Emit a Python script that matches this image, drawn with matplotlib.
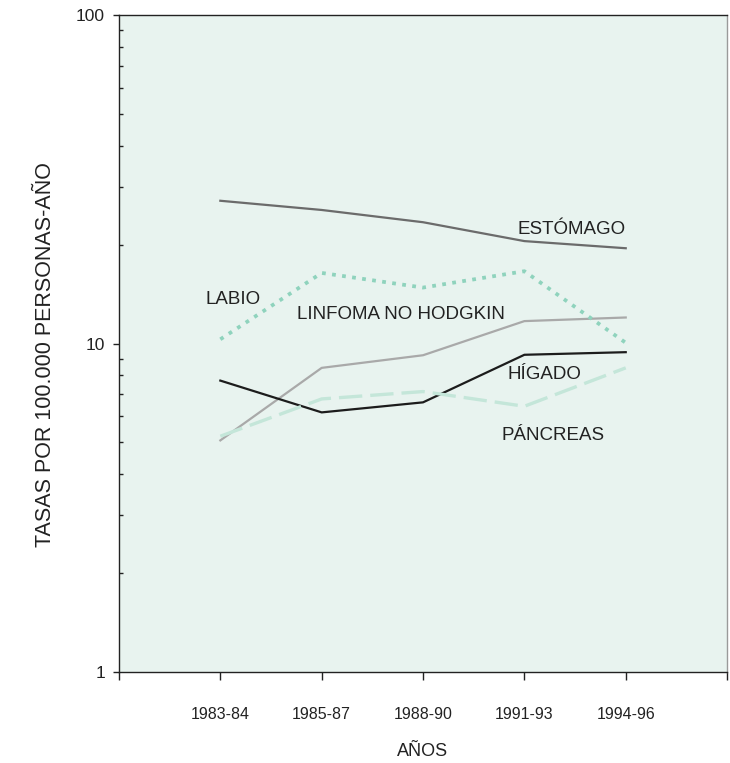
import numpy as np
import matplotlib
matplotlib.use("Agg")
import matplotlib.pyplot as plt
from matplotlib.ticker import FixedLocator, NullFormatter, LogLocator

# periodos (eje x)
periodos = ["1983-84", "1985-87", "1988-90", "1991-93", "1994-96"]

# tasas por 100.000 personas-año
estomago = [27.2, 25.5, 23.4, 20.5, 19.5]
labio = [10.3, 16.4, 14.8, 16.6, 10.05]
linfoma = [5.07, 8.43, 9.21, 11.7, 12.0]
higado = [7.71, 6.17, 6.62, 9.24, 9.41]
pancreas = [5.22, 6.78, 7.14, 6.44, 8.43]

FONDO = "#e8f3ef"


def plot_tasas():
    plt.rcParams["font.family"] = ["Liberation Sans", "DejaVu Sans"]

    fig = plt.figure(figsize=(7.3, 7.63), dpi=100)
    ax = fig.add_axes([0.163, 0.1193, 0.833, 0.861])
    ax.set_facecolor(FONDO)

    x = np.arange(1, len(periodos) + 1)

    # líneas
    ax.plot(x, estomago, "-", color="#6b6b6b", lw=1.6)
    ax.plot(x, linfoma, "-", color="#a9a9a9", lw=1.6)
    ax.plot(x, higado, "-", color="#1c1c1c", lw=1.6)
    ax.plot(x, pancreas, color="#c4e6d9", lw=2.4, dashes=(7, 2.4))
    ax.plot(x, labio, color="#8fd3bd", lw=2.7, dashes=(1, 1.7),
            dash_capstyle="butt")

    # etiquetas de las series
    kw = dict(fontsize=13.5, color="#222222", ha="center", va="baseline")
    ax.text(4.47, 21.5, "ESTÓMAGO", **kw)
    ax.text(1.125, 13.15, "LABIO", **kw)
    ax.text(2.78, 11.84, "LINFOMA NO HODGKIN", **kw)
    ax.text(4.20, 7.77, "HÍGADO", **kw)
    ax.text(4.28, 5.10, "PÁNCREAS", **kw)

    # ejes
    ax.set_yscale("log")
    ax.set_ylim(1, 100)
    ax.set_xlim(0, 6)

    ax.xaxis.set_major_locator(FixedLocator(range(0, 7)))
    ax.set_xticklabels([""] + periodos + [""])
    ax.tick_params(axis="x", which="major", direction="out", length=6,
                   width=1, pad=19, labelsize=11.5, colors="#222222")

    ax.yaxis.set_major_locator(FixedLocator([1, 10, 100]))
    ax.set_yticklabels(["1", "10", "100"])
    ax.yaxis.set_minor_locator(LogLocator(base=10, subs=np.arange(2, 10)))
    ax.yaxis.set_minor_formatter(NullFormatter())
    ax.tick_params(axis="y", which="major", direction="out", length=4,
                   width=1, pad=6, labelsize=12.5, colors="#222222")
    ax.tick_params(axis="y", which="minor", direction="in", length=3,
                   width=1, color="#222222")

    for lado in ["left", "bottom", "top"]:
        ax.spines[lado].set_color("#222222")
        ax.spines[lado].set_linewidth(1.0)
    ax.spines["right"].set_color("#9a9a9a")
    ax.spines["right"].set_linewidth(1.0)

    fig.text(423 / 730, 1 - 751 / 763, "AÑOS", fontsize=13, color="#222222",
             ha="center", va="center")
    fig.text(46 / 730, 1 - 355 / 763, "TASAS POR 100.000 PERSONAS-AÑO",
             fontsize=15.5, color="#222222", rotation=90,
             ha="center", va="center")

    plt.savefig("out.png", dpi=100)
    plt.close()


if __name__ == "__main__":
    plot_tasas()
